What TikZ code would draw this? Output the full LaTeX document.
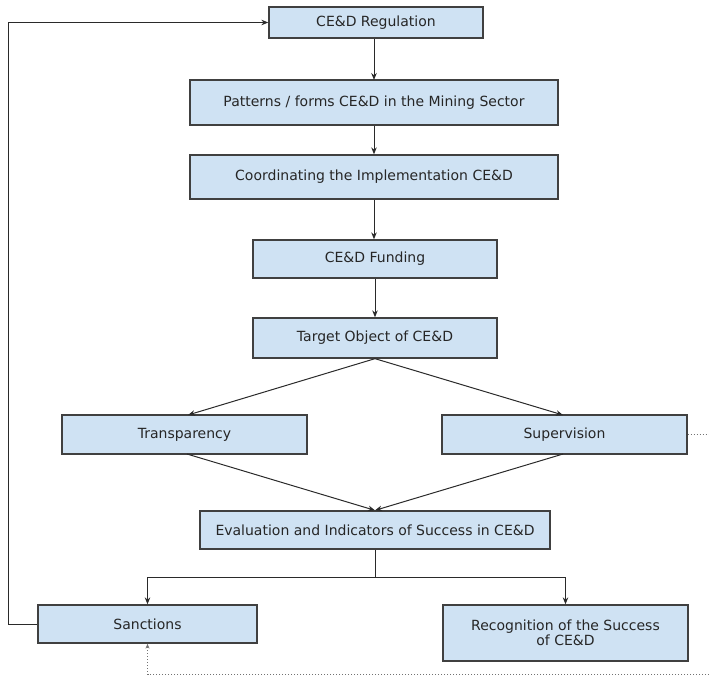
\documentclass[tikz,border=0pt]{standalone}
\usepackage{fontspec}
\setmainfont{DejaVu Sans}
\usetikzlibrary{arrows.meta}
\definecolor{boxfill}{HTML}{CFE2F3}
\definecolor{boxdraw}{HTML}{404040}
\definecolor{linec}{HTML}{2A2A2A}
\tikzset{
  x=1pt,y=-1pt,
  box/.style={draw=boxdraw,fill=boxfill,line width=1.3pt,inner sep=0pt,align=center,
    font=\fontsize{14}{15.5}\selectfont,text=black!85},
  conn/.style={draw=linec,line width=1pt,-{Stealth[length=7pt,width=5.5pt]}},
  plain/.style={draw=linec,line width=1pt},
  dots/.style={draw=black!55,line width=1pt,dotted},
}
\begin{document}
\begin{tikzpicture}
\useasboundingbox (0,0) rectangle (709,691);
\node[box,minimum width=214pt,minimum height=31pt] (reg) at (376,22.5) {CE\&D Regulation};
\node[box,minimum width=368pt,minimum height=45pt] (pat) at (374,102.5) {Patterns / forms CE\&D in the Mining Sector};
\node[box,minimum width=368pt,minimum height=44pt] (coo) at (374,177) {Coordinating the Implementation CE\&D};
\node[box,minimum width=244pt,minimum height=38pt] (fun) at (375,259) {CE\&D Funding};
\node[box,minimum width=244pt,minimum height=40pt] (tar) at (375,338) {Target Object of CE\&D};
\node[box,minimum width=245pt,minimum height=39pt] (tra) at (184.5,434.5) {Transparency};
\node[box,minimum width=245pt,minimum height=39pt] (sup) at (564.5,434.5) {Supervision};
\node[box,minimum width=350pt,minimum height=38pt] (eva) at (375,530) {Evaluation and Indicators of Success in CE\&D};
\node[box,minimum width=219pt,minimum height=38pt] (san) at (147.5,624) {Sanctions};
\node[box,minimum width=245pt,minimum height=56pt] (rec) at (565.5,633) {Recognition of the Success\\of CE\&D};
\coordinate (supend) at (709,434.5);
\coordinate (botend) at (709,674);
\coordinate (split) at (375,577);
\coordinate (loopb) at (8,624);
\coordinate (loopt) at (8,22.5);

\draw[conn] (reg.south) ++(-2,0) -- (374,80);
\draw[conn] (pat) -- (coo);
\draw[conn] (coo.south) -- (fun.north -| coo.south);
\draw[conn] (fun) -- (tar);
\draw[conn] (tar.south) -- (188,415);
\draw[conn] (tar.south) -- (563,415);
\draw[conn] (187,454) -- (eva.north);
\draw[conn] (563,454) -- (eva.north);
\draw[plain] (eva.south) -- (split);
\draw[conn] (split) -| (san.north);
\draw[conn] (split) -| (rec.north);
\draw[conn] (san.west) -- (loopb) -- (loopt) -- (reg.west);
\draw[dots] (sup.east) -- (supend);
\draw[dots,-{Stealth[length=5pt,width=4pt]}] (botend) -| (san.south);
\end{tikzpicture}
\end{document}
